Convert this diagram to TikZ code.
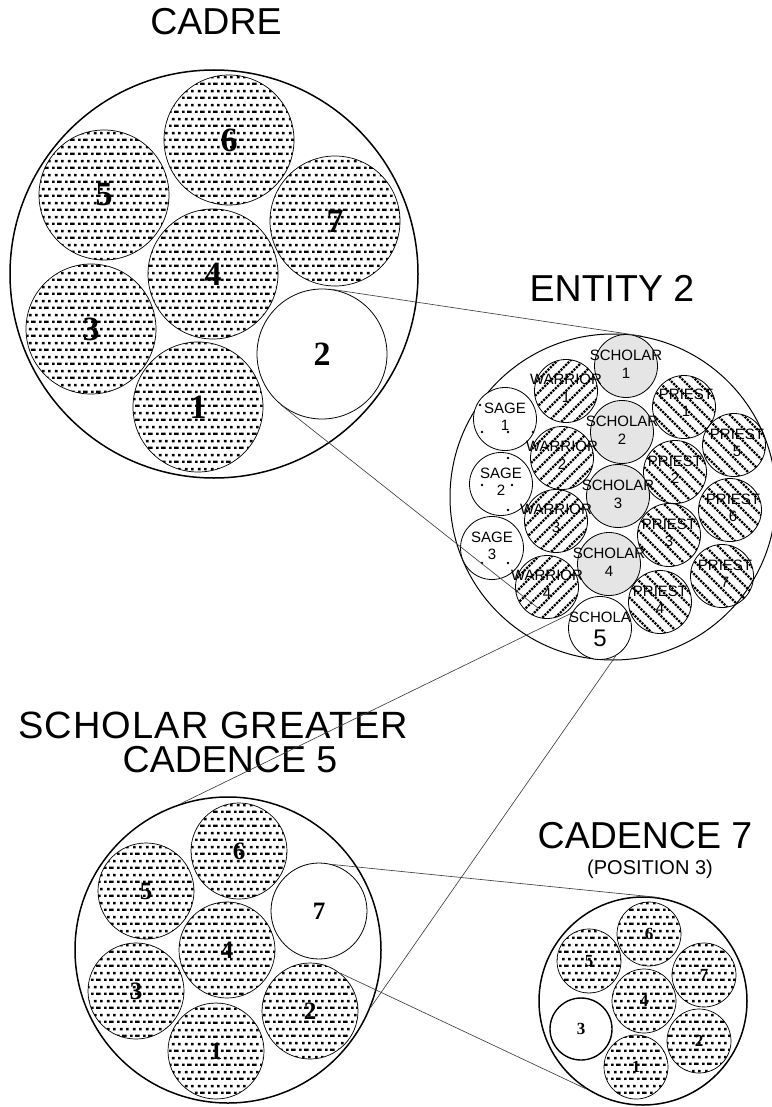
\documentclass[tikz,border=0pt]{standalone}
\usepackage{fontspec}
\setmainfont{Liberation Serif}
\newfontfamily\hv{Liberation Sans}
\newfontfamily\hvs[LetterSpace=3]{Liberation Sans}
\usetikzlibrary{patterns,calc}
\pgfdeclarepatternformonly{cdots}{\pgfpointorigin}{\pgfqpoint{13pt}{14pt}}{\pgfqpoint{13pt}{14pt}}{%
  \pgfpathrectangle{\pgfqpoint{0pt}{0pt}}{\pgfqpoint{2.7pt}{2.6pt}}%
  \pgfpathrectangle{\pgfqpoint{5.5pt}{0pt}}{\pgfqpoint{4.8pt}{2.6pt}}%
  \pgfpathrectangle{\pgfqpoint{3.2pt}{7pt}}{\pgfqpoint{2.7pt}{2.6pt}}%
  \pgfpathrectangle{\pgfqpoint{9.7pt}{7pt}}{\pgfqpoint{2.7pt}{2.6pt}}%
  \pgfusepath{fill}}
\begin{document}
\begin{tikzpicture}[x=1pt,y=-1pt,
  outer/.style={circle,draw,line width=1.5pt,inner sep=0pt},
  dotc/.style={circle,draw,line width=0.7pt,inner sep=0pt,pattern=cdots,pattern color=black},
  plainc/.style={circle,draw,line width=0.8pt,fill=white,inner sep=0pt},
  cadrec/.style={minimum size=130pt,font=\fontsize{34}{34}\selectfont\bfseries},
  midc/.style={minimum size=96pt,font=\fontsize{25}{25}\selectfont\bfseries},
  smallc/.style={minimum size=64pt,font=\fontsize{17}{17}\selectfont\bfseries},
  entc/.style={circle,draw,line width=0.8pt,inner sep=0pt,minimum size=63pt},
  scholarc/.style={entc,fill=black!10},
  sagec/.style={entc,fill=white},
  hatchline/.style={line width=2.4pt,dash pattern=on 2.2pt off 1.1pt},
  warc/.style={entc,path picture={\foreach \d in {-65,-52,...,65}{\draw[hatchline] ([shift={({\d-40},40)}]path picture bounding box.center) -- ++(80,-80);}}},
  pric/.style={entc,path picture={\foreach \d in {-65,-52,...,65}{\draw[hatchline] ([shift={({\d-40},-40)}]path picture bounding box.center) -- ++(80,80);}}},
  elbl/.style={font=\hv\fontsize{15}{17.5}\selectfont,align=center,inner sep=0pt},
  title/.style={font=\hv\fontsize{37.5}{37.5}\selectfont,inner sep=0pt},
  subtitle/.style={font=\hv\fontsize{20}{20}\selectfont,inner sep=0pt},
  conn/.style={line width=0.65pt,draw=black!75},
  sdot/.style={fill=black}]
\useasboundingbox (0,0) rectangle (771,1107);
\fill[white] (0,0) rectangle (771,1107);

% titles
\node[title] (tcadre) at (216,22) {CADRE};
\node[title] (tent) at (612,288) {ENTITY 2};
\node[title,font=\hvs\fontsize{38}{38}\selectfont] (tsg) at (213,725) {SCHOLAR GREATER};
\node[title] (tc5) at (230,760) {CADENCE 5};
\node[title] (tc7) at (645,836) {CADENCE 7};
\node[subtitle] (tpos) at (650,869) {(POSITION 3)};

% CADRE
\node[outer,minimum size=408pt] (cadre) at (214,274) {};
\node[dotc,cadrec] (a6) at (229,140) {6};
\node[dotc,cadrec] (a5) at (104,195) {5};
\node[dotc,cadrec] (a7) at (335,221) {7};
\node[dotc,cadrec] (a4) at (213,274) {4};
\node[dotc,cadrec] (a3) at (91,329) {3};
\node[plainc,cadrec] (a2) at (322,354) {2};
\node[dotc,cadrec] (a1) at (198,407) {1};

% ENTITY 2
\node[circle,draw,line width=1pt,inner sep=0pt,minimum size=326pt] (ent) at (613,497) {};
\node[scholarc] (sch1) at (626,366) {};
\node[warc] (war1) at (566,391) {};
\node[pric] (pri1) at (684,407) {};
\node[sagec] (sage1) at (505,419) {};
\node[scholarc] (sch2) at (622,432) {};
\node[warc] (war2) at (562,458) {};
\node[pric] (pri5) at (734,445) {};
\node[pric] (pri2) at (675,472) {};
\node[sagec] (sage2) at (501,484) {};
\node[scholarc] (sch3) at (618,496) {};
\node[pric] (pri6) at (730,510) {};
\node[warc] (war3) at (556,521) {};
\node[sagec] (sage3) at (492,548) {};
\node[scholarc] (sch4) at (609,564) {};
\node[pric] (pri3) at (669,535) {};
\node[pric] (pri7) at (722,576) {};
\node[warc] (war4) at (547,587) {};
\node[pric] (pri4) at (660,602) {};
\node[sagec] (sch5) at (600,628) {};

\node[elbl] at ($(sch1)+(0,-1.5)$) {SCHOLAR\\1};
\node[elbl] at ($(sch2)+(0,-1.5)$) {SCHOLAR\\2};
\node[elbl] at ($(sch3)+(0,-1.5)$) {SCHOLAR\\3};
\node[elbl] at ($(sch4)+(0,-1.5)$) {SCHOLAR\\4};
\node[elbl] at ($(war1)+(0,-2.5)$) {WARRIOR\\1};
\node[elbl] at ($(war2)+(0,-2.5)$) {WARRIOR\\2};
\node[elbl] at ($(war3)+(0,-2.5)$) {WARRIOR\\3};
\node[elbl] at ($(war4)+(0,-2.5)$) {WARRIOR\\4};
\node[elbl] at ($(pri1)+(2,-4)$) {PRIEST\\1};
\node[elbl] at ($(pri2)+(0,-2)$) {PRIEST\\2};
\node[elbl] at ($(pri3)+(0,-2)$) {PRIEST\\3};
\node[elbl] at ($(pri4)+(0,-2)$) {PRIEST\\4};
\node[elbl] at ($(pri5)+(3,-2)$) {PRIEST\\5};
\node[elbl] at ($(pri6)+(3,-2)$) {PRIEST\\6};
\node[elbl] at ($(pri7)+(3,-2)$) {PRIEST\\7};
\node[elbl] at ($(sage1)+(0,-2)$) {SAGE\\1};
\node[elbl] at ($(sage2)+(0,-2)$) {SAGE\\2};
\node[elbl] at ($(sage3)+(0,-2)$) {SAGE\\3};
\node[elbl] at ($(sch5)+(0,-11)$) {SCHOLA};
\node[font=\hv\fontsize{24}{24}\selectfont,inner sep=0pt] at ($(sch5)+(0,10)$) {5};

\fill[sdot] ($(sage1)+(-25,-14)$) circle (1.4);
\fill[sdot] ($(sage1)+(-23,13)$) circle (1.4);
\fill[sdot] ($(sage1)+(3,13)$) circle (1.4);
\fill[sdot] ($(sage1)+(28,13)$) circle (1.4);
\fill[sdot] ($(sage2)+(7,-26)$) circle (1.4);
\fill[sdot] ($(sage2)+(-19,1)$) circle (1.4);
\fill[sdot] ($(sage2)+(11,1)$) circle (1.4);
\fill[sdot] ($(sage2)+(7,26)$) circle (1.4);
\fill[sdot] ($(sage3)+(-10,15)$) circle (1.4);
\fill[sdot] ($(sage3)+(16,15)$) circle (1.4);

% SCHOLAR GREATER CADENCE 5
\node[outer,minimum size=306pt] (cad5) at (228,950) {};
\node[dotc,midc] (b6) at (239,851) {6};
\node[dotc,midc] (b5) at (146,891) {5};
\node[plainc,midc] (b7) at (319,911) {7};
\node[dotc,midc] (b4) at (227,950) {4};
\node[dotc,midc] (b3) at (136,991) {3};
\node[dotc,midc] (b2) at (310,1011) {2};
\node[dotc,midc] (b1) at (216,1051) {1};

% CADENCE 7
\node[outer,minimum size=208pt] (cad7) at (643,1001) {};
\node[dotc,smallc] (c6) at (649,934) {6};
\node[dotc,smallc] (c5) at (589,961) {5};
\node[dotc,smallc] (c7) at (704,975) {7};
\node[dotc,smallc] (c4) at (644,1001) {4};
\node[plainc,smallc,line width=1.4pt,minimum size=62pt] (c3) at (581,1029) {3};
\node[dotc,smallc] (c2) at (699,1041) {2};
\node[dotc,smallc] (c1) at (636,1067) {1};

% connectors
\coordinate (bend) at (538,608);
\draw[conn] (a2.83) -- (ent.80);
\draw[conn] (a2.231) -- (bend);
\draw[conn] (cad5.108) -- (sch5.152);
\draw[conn] (sch5.-60) -- (cad5.-22);
\draw[conn] (b7.74) -- (cad7.81);
\draw[conn] (b2.52) -- (cad7.237);
\end{tikzpicture}
\end{document}
